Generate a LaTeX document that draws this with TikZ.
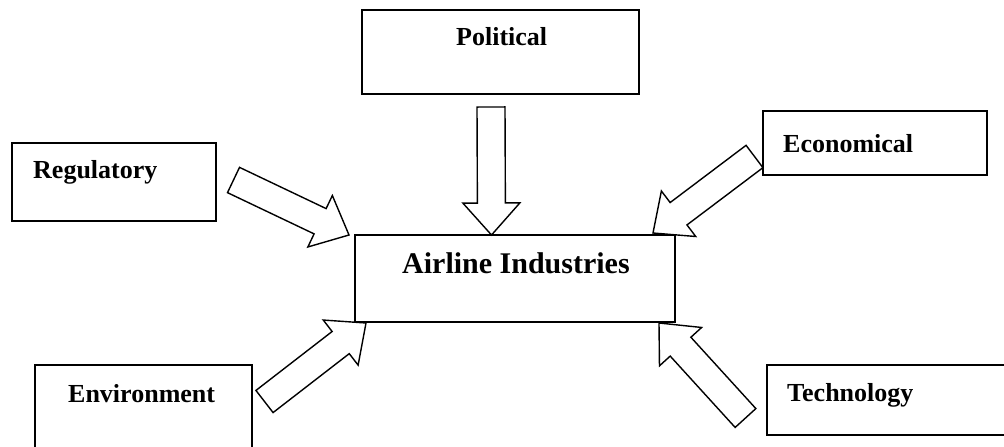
\documentclass[tikz,border=0pt]{standalone}
\usepackage{fontspec}
\setmainfont{Liberation Serif}
\usetikzlibrary{calc}

\tikzset{
  factor/.style={draw, line width=1.8pt, inner sep=0pt},
  factorlabel/.style={anchor=base west, inner sep=0pt, font=\fontsize{26}{30}\selectfont\bfseries},
  fat/.style={draw, line width=1.4pt, fill=white, line join=miter}
}

% hollow block arrow from tail to tip
\newcommand{\fatarrow}[2]{%
  \coordinate (fb) at ($(#2)!32pt!(#1)$);
  \draw[fat] ($(#1)!14pt!90:(#2)$) -- ($(fb)!14pt!90:(#2)$) -- ($(fb)!28.5pt!90:(#2)$)
    -- (#2) -- ($(fb)!28.5pt!-90:(#2)$) -- ($(fb)!14pt!-90:(#2)$) -- ($(#1)!14pt!-90:(#2)$) -- cycle;}

\begin{document}
\begin{tikzpicture}[x=1pt, y=-1pt]
    \useasboundingbox (0,0) rectangle (1004,447);
    \clip (0,0) rectangle (1004,447);

    \node[factor, minimum width=320pt, minimum height=87pt] (airline) at (515,278.5) {};
    \node[anchor=base west, inner sep=0pt, font=\fontsize{30}{34}\selectfont\bfseries] (airlinetext) at (402,273) {Airline Industries};

    \node[factor, minimum width=277pt, minimum height=84pt] (political) at (500.5,52) {};
    \node[factorlabel] (politicaltext) at (456,45) {Political};

    \node[factor, minimum width=204pt, minimum height=78pt] (regulatory) at (114,182) {};
    \node[factorlabel] (regulatorytext) at (33,178) {Regulatory};

    \node[factor, minimum width=224pt, minimum height=64pt] (economical) at (875,143) {};
    \node[factorlabel] (economicaltext) at (783,152) {Economical};

    \node[factor, minimum width=217pt, minimum height=90pt] (environment) at (143.5,410) {};
    \node[factorlabel] (environmenttext) at (68,402) {Environment};

    \node[factor, minimum width=243pt, minimum height=70pt] (technology) at (888.5,400) {};
    \node[factorlabel] (technologytext) at (787,401) {Technology};

    % arrow ends
    \coordinate (poltail) at (491,107);
    \coordinate (poltip) at (491.5,235);
    \coordinate (regtail) at (233.5,180);
    \coordinate (regtip) at (349,235);
    \coordinate (ecotail) at (754.5,156.5);
    \coordinate (ecotip) at (653,233);
    \coordinate (envtail) at (264.5,401.5);
    \coordinate (envtip) at (366,323);
    \coordinate (tectail) at (745.5,418);
    \coordinate (tectip) at (659,323);

    \fatarrow{poltail}{poltip}
    \fatarrow{regtail}{regtip}
    \fatarrow{ecotail}{ecotip}
    \fatarrow{envtail}{envtip}
    \fatarrow{tectail}{tectip}
\end{tikzpicture}
\end{document}
